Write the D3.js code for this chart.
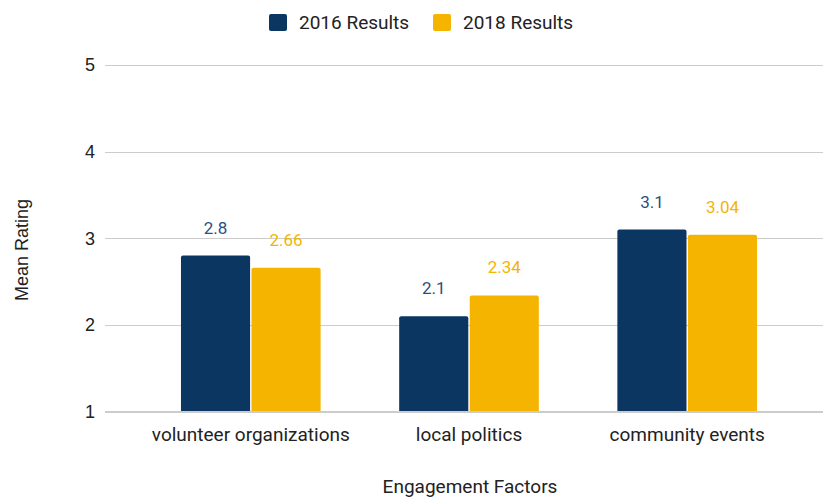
<!DOCTYPE html>
<html>
<head>
<meta charset="utf-8">
<script src="https://cdn.jsdelivr.net/npm/d3@7"></script>
<style>
  html, body { margin: 0; padding: 0; background: #fff; }
  svg { display: block; }
</style>
</head>
<body>
<svg id="chart" width="823" height="497"></svg>
<script>
// Mean ratings per engagement factor, two survey years
const categories = ["volunteer organizations", "local politics", "community events"];
const seriesNames = ["2016 Results", "2018 Results"];
const results2016 = [2.8, 2.1, 3.1];
const results2018 = [2.66, 2.34, 3.04];
const yTicks = [1, 2, 3, 4, 5];
const seriesValues = [results2016, results2018];

const colors = ["#0b3661", "#f4b400"];
const labelColors = ["#2a5080", "#f4b400"];

const svg = d3.select("#chart");

const y = d3.scaleLinear().domain([1, 5]).range([411.5, 65]);
const x0 = d3.scaleBand().domain(categories).range([141.7, 796.3])
  .paddingInner(0.36).paddingOuter(0.18);
const x1 = d3.scaleBand().domain(seriesNames).range([0, x0.bandwidth()]).paddingInner(0.02);

// gridlines + tick labels
const yAxis = d3.axisLeft(y).tickValues(yTicks).tickFormat(d3.format("d"))
  .tickSize(-(823 - 105)).tickPadding(10);
const gy = svg.append("g").attr("transform", "translate(105,0)").call(yAxis);
gy.select(".domain").remove();
gy.selectAll(".tick line").attr("stroke", "#cccccc").attr("stroke-width", 1)
  .attr("shape-rendering", "crispEdges");
gy.selectAll(".tick text").attr("font-family", "Liberation Sans, Arial, sans-serif")
  .attr("font-size", 18).attr("fill", "#222");

// bars with lightly rounded tops
function topRounded(x, yTop, w, h, r) {
  return `M${x},${yTop + h}V${yTop + r}Q${x},${yTop} ${x + r},${yTop}` +
    `H${x + w - r}Q${x + w},${yTop} ${x + w},${yTop + r}V${yTop + h}Z`;
}

const groups = svg.append("g").selectAll("g").data(categories).join("g")
  .attr("transform", d => `translate(${x0(d)},0)`);

groups.each(function(cat, ci) {
  const g = d3.select(this);
  seriesNames.forEach((s, si) => {
    const v = seriesValues[si][ci];
    const bx = x1(s), by = y(v), bw = x1.bandwidth(), bh = y(1) - y(v);
    g.append("path").attr("d", topRounded(bx, by, bw, bh, 2))
      .attr("fill", colors[si]);
    g.append("text").attr("x", bx + bw / 2).attr("y", by - 22)
      .attr("text-anchor", "middle").attr("font-family", "Roboto, sans-serif")
      .attr("font-size", 17).attr("fill", labelColors[si]).text(v);
  });
});

// baseline
svg.append("line").attr("x1", 105).attr("x2", 823).attr("y1", y(1)).attr("y2", y(1))
  .attr("stroke", "#cccccc").attr("shape-rendering", "crispEdges");

// category labels
svg.append("g").selectAll("text").data(categories).join("text")
  .attr("x", d => x0(d) + x0.bandwidth() / 2).attr("y", 441)
  .attr("text-anchor", "middle").attr("font-family", "Roboto, sans-serif")
  .attr("font-size", 19).attr("fill", "#222").text(d => d);

// axis titles
svg.append("text").attr("x", 470).attr("y", 493).attr("text-anchor", "middle")
  .attr("font-family", "Roboto, sans-serif").attr("font-size", 19).attr("fill", "#222")
  .text("Engagement Factors");
svg.append("text").attr("transform", "translate(28,250) rotate(-90)")
  .attr("text-anchor", "middle").attr("font-family", "Liberation Sans, Arial, sans-serif")
  .attr("font-size", 18).attr("fill", "#222").text("Mean Rating");

// legend
const legendX = [269, 433];
const leg = svg.append("g").selectAll("g").data(seriesNames).join("g");
leg.append("rect").attr("x", (d, i) => legendX[i]).attr("y", 14).attr("width", 18).attr("height", 17)
  .attr("rx", 2).attr("fill", (d, i) => colors[i]);
leg.append("text").attr("x", (d, i) => legendX[i] + 30).attr("y", 29)
  .attr("font-family", "Roboto, sans-serif").attr("font-size", 19).attr("fill", "#222")
  .text(d => d);
</script>
</body>
</html>
